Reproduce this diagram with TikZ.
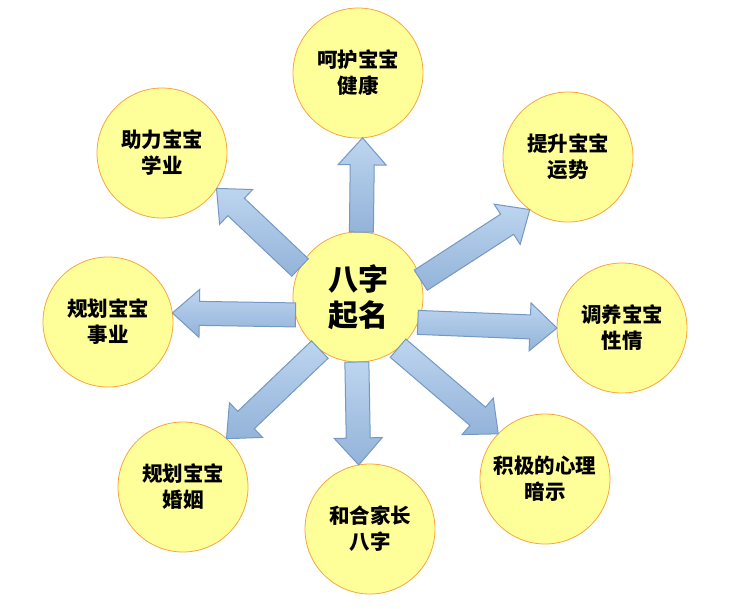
\documentclass[tikz,border=0pt]{standalone}
\usepackage{fontspec}
\setmainfont{Noto Sans CJK SC}
\usetikzlibrary{positioning,calc}
\definecolor{ballfill}{HTML}{FFFF99}
\definecolor{balledge}{HTML}{F9A43A}
\definecolor{arrowtop}{HTML}{BDD5EF}
\definecolor{arrowbot}{HTML}{93B3D9}
\definecolor{arrowedge}{HTML}{7398C5}

\newcommand{\fatarrow}[2]{%
	\coordinate (hb) at ($(#2)!27pt!(#1)$);
	\draw[fat] ($(#1)!12pt!90:(#2)$) -- ($(hb)!12pt!-90:(#1)$) -- ($(hb)!24pt!-90:(#1)$) -- (#2) -- ($(hb)!24pt!90:(#1)$) -- ($(hb)!12pt!90:(#1)$) -- ($(#1)!12pt!-90:(#2)$) -- cycle;
}

\begin{document}
\begin{tikzpicture}[x=1pt,y=-1pt,
	ball/.style={circle,draw=balledge,fill=ballfill,line width=0.8pt,minimum size=130pt,inner sep=0pt,outer sep=0pt,align=center,font=\fontsize{20.5}{26}\selectfont\bfseries},
	fat/.style={top color=arrowtop,bottom color=arrowbot,draw=arrowedge,line width=1pt,line join=miter}]
		\useasboundingbox (0,0) rectangle (733,608);
		
		\node[ball] (jk) at (358,73) {呵护宝宝\\健康};
		\node[ball] (ys) at (568,157) {提升宝宝\\运势};
		\node[ball] (xq) at (622,328) {调养宝宝\\性情};
		\node[ball] (as) at (545,479) {积极的心理\\暗示};
		\node[ball] (hh) at (370,529) {和合家长\\八字};
		\node[ball] (hy) at (183,487) {规划宝宝\\婚姻};
		\node[ball] (sy) at (108,322) {规划宝宝\\事业};
		\node[ball] (xy) at (162,153) {助力宝宝\\学业};
		
		\node[ball,font=\fontsize{30}{36}\selectfont\bfseries] (bz) at (358,297) {八字\\起名};
		
		\fatarrow{bz.87}{jk.274}
		\fatarrow{bz.15}{ys.234}
		\fatarrow{bz.337}{xq.180}
		\fatarrow{bz.308}{as.136}
		\fatarrow{bz.269}{hh.100}
		\fatarrow{bz.234}{hy.48}
		\fatarrow{bz.196}{sy.8}
		\fatarrow{bz.153}{xy.327}
	\end{tikzpicture}
\end{document}
